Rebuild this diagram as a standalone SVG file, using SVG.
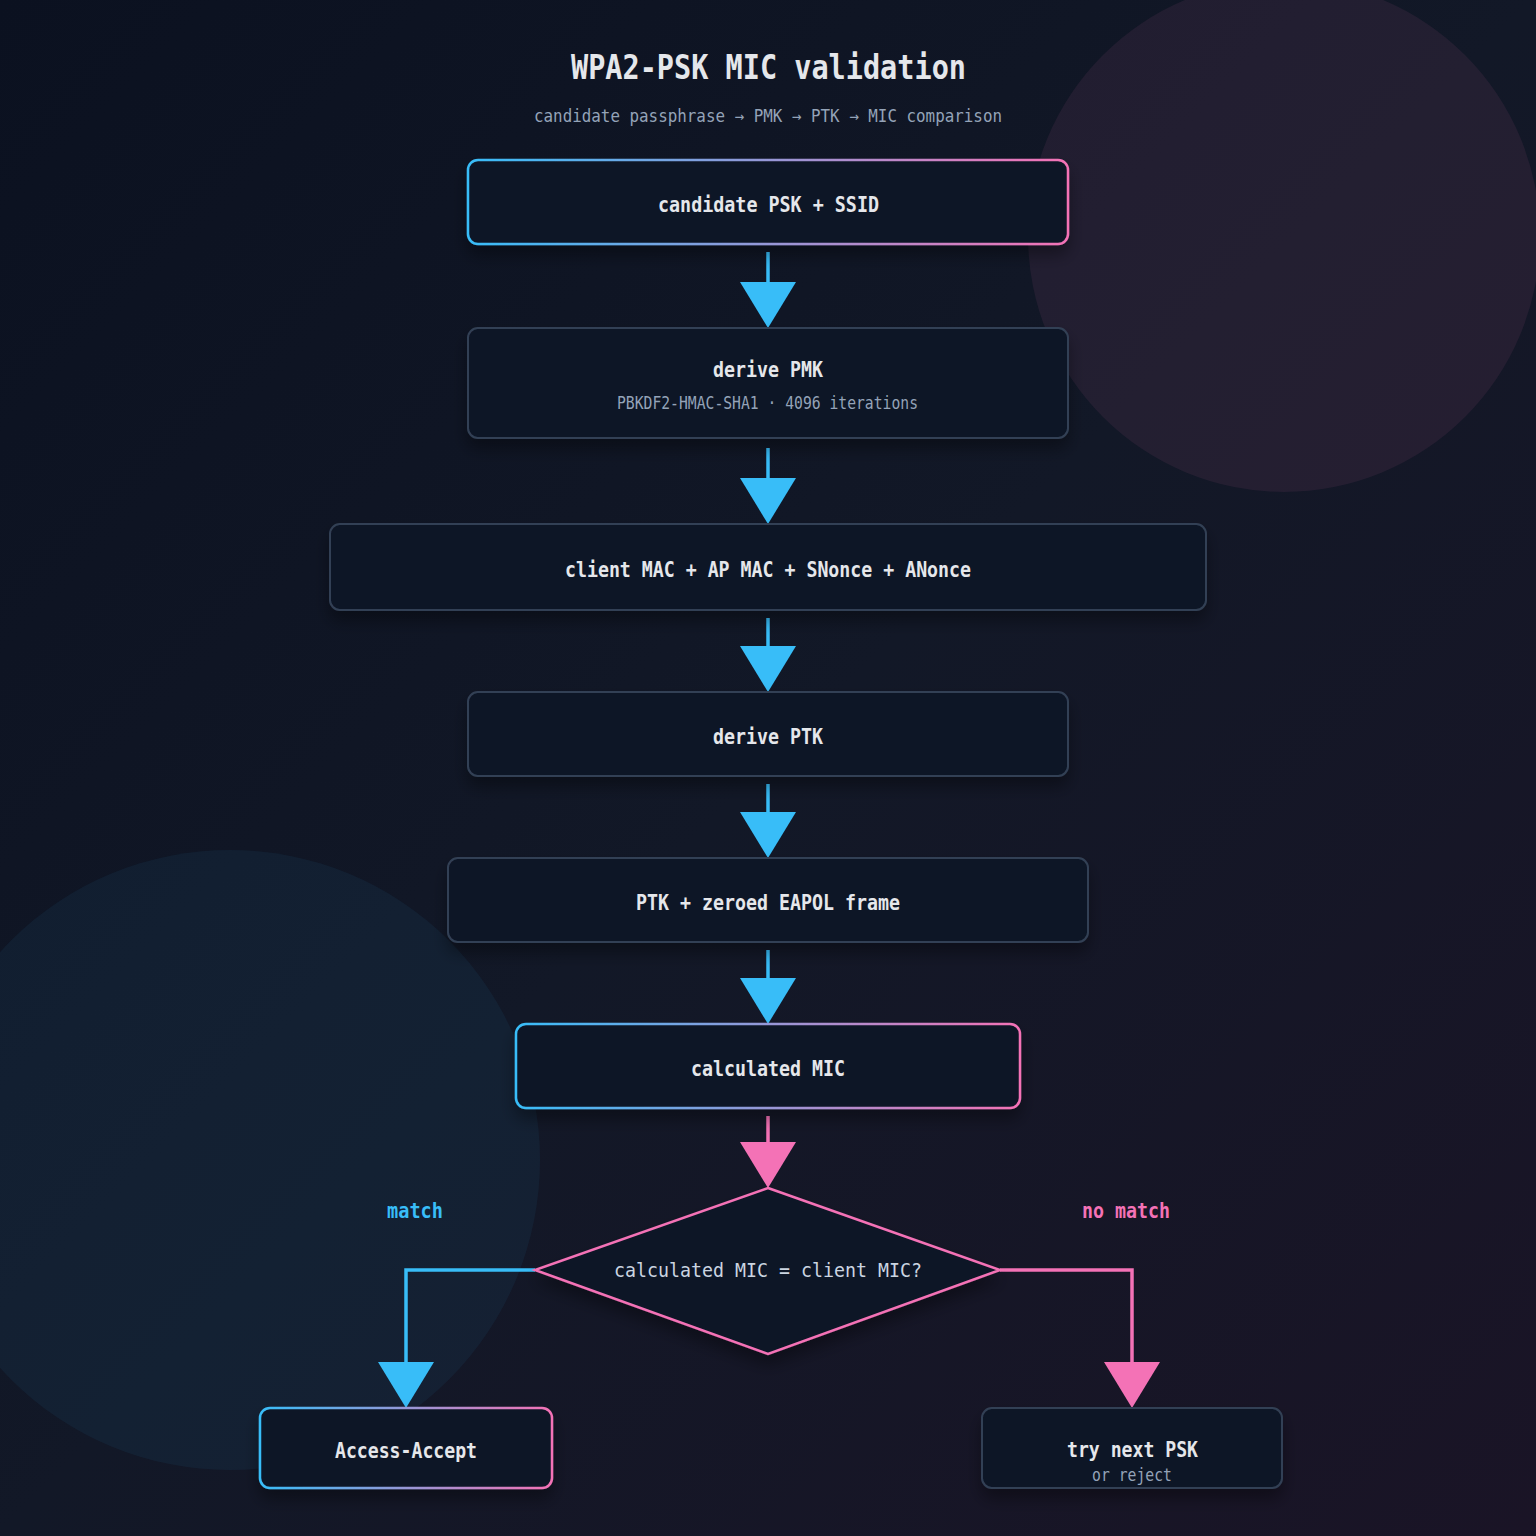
<svg xmlns="http://www.w3.org/2000/svg" width="1536" height="1536" viewBox="0 0 1536 1536">
  <defs>
    <linearGradient id="bg" x1="0" y1="0" x2="1" y2="1">
      <stop offset="0" stop-color="#0b1120"/>
      <stop offset="0.5" stop-color="#121827"/>
      <stop offset="1" stop-color="#1a1426"/>
    </linearGradient>
    <linearGradient id="hl" x1="0" y1="0" x2="1" y2="0">
      <stop offset="0" stop-color="#38bdf8"/>
      <stop offset="1" stop-color="#f472b6"/>
    </linearGradient>
    <filter id="sh" x="-10%" y="-20%" width="120%" height="160%">
      <feDropShadow dx="0" dy="10" stdDeviation="8" flood-color="#000000" flood-opacity="0.35"/>
    </filter>
    <marker id="ac" markerUnits="userSpaceOnUse" viewBox="0 -28 46 56" refX="0" refY="0" markerWidth="46" markerHeight="56" orient="auto" overflow="visible">
      <path d="M0,-28 L46,0 L0,28 Z" fill="#38bdf8"/>
    </marker>
    <marker id="ap" markerUnits="userSpaceOnUse" viewBox="0 -28 46 56" refX="0" refY="0" markerWidth="46" markerHeight="56" orient="auto" overflow="visible">
      <path d="M0,-28 L46,0 L0,28 Z" fill="#f472b6"/>
    </marker>
    <style>
      .box { fill: #0e1627; stroke: #334155; stroke-width: 2; filter: url(#sh); }
      .hl { fill: #0e1627; stroke: url(#hl); stroke-width: 2.5; filter: url(#sh); }
      .t { font-family: "DejaVu Sans Mono", "Liberation Mono", monospace; font-weight: bold; font-size: 21px; fill: #e5e7eb; }
      .s { font-family: "DejaVu Sans Mono", "Liberation Mono", monospace; font-size: 17px; fill: #94a3b8; }
      .cc { fill: none; stroke: #38bdf8; stroke-width: 3.5; marker-end: url(#ac); }
      .cp { fill: none; stroke: #f472b6; stroke-width: 3.5; marker-end: url(#ap); }
    </style>
  </defs>

  <rect x="0" y="0" width="1536" height="1536" fill="url(#bg)"/>
  <circle cx="1284" cy="236" r="256" fill="#f472b6" fill-opacity="0.08"/>
  <circle cx="230" cy="1160" r="310" fill="#38bdf8" fill-opacity="0.06"/>

  <g id="title">
    <text x="571" y="79" font-family="DejaVu Sans Mono, Liberation Mono, monospace" font-weight="bold" font-size="33" fill="#e5e7eb" textLength="395" lengthAdjust="spacingAndGlyphs">WPA2-PSK MIC validation</text>
    <text class="s" x="534" y="122" textLength="468" lengthAdjust="spacingAndGlyphs">candidate passphrase → PMK → PTK → MIC comparison</text>
  </g>

  <g id="connectors">
    <path class="cc" d="M768,252 V282"/>
    <path class="cc" d="M768,448 V478"/>
    <path class="cc" d="M768,618 V646"/>
    <path class="cc" d="M768,784 V812"/>
    <path class="cc" d="M768,950 V978"/>
    <path class="cp" d="M768,1116 V1142"/>
    <path class="cc" d="M535,1270 H406 V1362"/>
    <path class="cp" d="M1000,1270 H1132 V1362"/>
    <text x="387" y="1218" font-family="DejaVu Sans Mono, Liberation Mono, monospace" font-weight="bold" font-size="21" fill="#38bdf8" textLength="56" lengthAdjust="spacingAndGlyphs">match</text>
    <text x="1082" y="1218" font-family="DejaVu Sans Mono, Liberation Mono, monospace" font-weight="bold" font-size="21" fill="#f472b6" textLength="88" lengthAdjust="spacingAndGlyphs">no match</text>
  </g>

  <g id="node-candidate">
    <rect class="hl" x="468" y="160" width="600" height="84" rx="10"/>
    <text class="t" x="658" y="212" textLength="221" lengthAdjust="spacingAndGlyphs">candidate PSK + SSID</text>
  </g>

  <g id="node-pmk">
    <rect class="box" x="468" y="328" width="600" height="110" rx="10"/>
    <text class="t" x="713" y="377" textLength="110" lengthAdjust="spacingAndGlyphs">derive PMK</text>
    <text class="s" x="617" y="409" textLength="301" lengthAdjust="spacingAndGlyphs">PBKDF2-HMAC-SHA1 · 4096 iterations</text>
  </g>

  <g id="node-inputs">
    <rect class="box" x="330" y="524" width="876" height="86" rx="10"/>
    <text class="t" x="565" y="577" textLength="406" lengthAdjust="spacingAndGlyphs">client MAC + AP MAC + SNonce + ANonce</text>
  </g>

  <g id="node-ptk">
    <rect class="box" x="468" y="692" width="600" height="84" rx="10"/>
    <text class="t" x="713" y="744" textLength="110" lengthAdjust="spacingAndGlyphs">derive PTK</text>
  </g>

  <g id="node-eapol">
    <rect class="box" x="448" y="858" width="640" height="84" rx="10"/>
    <text class="t" x="636" y="910" textLength="264" lengthAdjust="spacingAndGlyphs">PTK + zeroed EAPOL frame</text>
  </g>

  <g id="node-mic">
    <rect class="hl" x="516" y="1024" width="504" height="84" rx="10"/>
    <text class="t" x="691" y="1076" textLength="154" lengthAdjust="spacingAndGlyphs">calculated MIC</text>
  </g>

  <g id="node-decision">
    <polygon points="768,1188 1000,1270 768,1354 535,1270" fill="#0e1627" stroke="#f472b6" stroke-width="2.5" stroke-linejoin="miter" filter="url(#sh)"/>
    <text x="614" y="1277" font-family="DejaVu Sans Mono, Liberation Mono, monospace" font-size="19" fill="#cbd5e1" textLength="308" lengthAdjust="spacingAndGlyphs">calculated MIC = client MIC?</text>
  </g>

  <g id="node-accept">
    <rect class="hl" x="260" y="1408" width="292" height="80" rx="10"/>
    <text class="t" x="335" y="1458" textLength="142" lengthAdjust="spacingAndGlyphs">Access-Accept</text>
  </g>

  <g id="node-next">
    <rect class="box" x="982" y="1408" width="300" height="80" rx="10"/>
    <text class="t" x="1067" y="1457" textLength="131" lengthAdjust="spacingAndGlyphs">try next PSK</text>
    <text class="s" x="1092" y="1481" font-size="16" textLength="80" lengthAdjust="spacingAndGlyphs">or reject</text>
  </g>
</svg>
